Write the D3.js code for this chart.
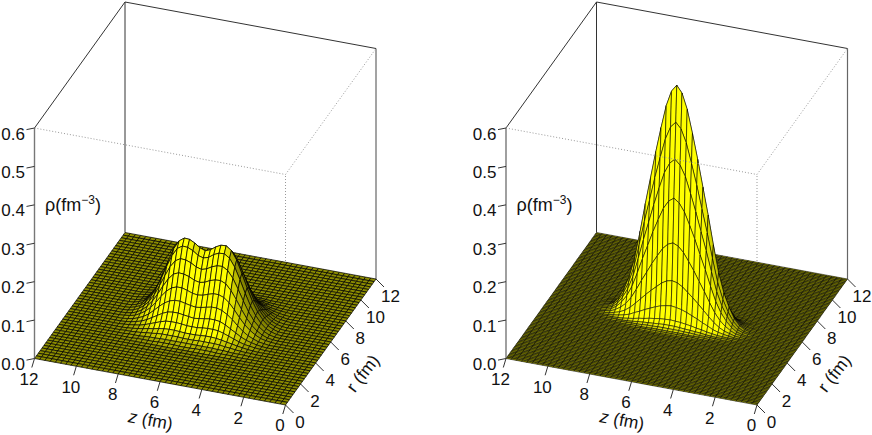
<!DOCTYPE html>
<html>
<head>
<meta charset="utf-8">
<script src="https://cdn.jsdelivr.net/npm/d3@7"></script>
<style>
  html, body { margin: 0; background: #fff; }
  text { font-family: "Liberation Sans", Arial, sans-serif; fill: #111; }
</style>
</head>
<body>
<svg id="chart" width="872" height="435"></svg>
<script>
const zTicks = [0, 2, 4, 6, 8, 10, 12];
const rTicks = [0, 2, 4, 6, 8, 10, 12];
const rhoTicks = [0, 0.1, 0.2, 0.3, 0.4, 0.5, 0.6];

// distance from the centre of the grid (z = 6, r = 6), rows and columns of the tables below
const dzNodes = [0, 0.25, 0.5, 0.75, 1, 1.25, 1.5, 1.75, 2, 2.25, 2.5, 2.75, 3, 3.25, 3.5];
const drLeft = [0, 0.25, 0.5, 0.75, 1, 1.25, 1.5, 1.75, 2, 2.25, 2.5, 2.75];
const drRight = [0, 0.125, 0.25, 0.375, 0.5, 0.625, 0.75, 0.875, 1, 1.125, 1.25, 1.375];

const rhoLeft = [
  [.177, .182, .192, .199, .200, .190, .168, .135, .100, .068, .043, .025, .012, .005, .001],
  [.165, .169, .179, .185, .186, .177, .156, .126, .093, .063, .040, .023, .011, .005, .001],
  [.142, .146, .154, .159, .160, .152, .134, .108, .080, .054, .034, .020, .010, .004, .001],
  [.115, .118, .125, .129, .130, .124, .109, .088, .065, .044, .028, .016, .008, .003, .001],
  [.089, .091, .096, .100, .100, .095, .084, .068, .050, .034, .022, .013, .006, .003, .001],
  [.064, .066, .069, .072, .072, .068, .060, .049, .036, .024, .015, .009, .004, .002, 0],
  [.042, .044, .046, .048, .048, .046, .040, .032, .024, .016, .010, .006, .003, .001, 0],
  [.027, .027, .029, .030, .030, .029, .025, .020, .015, .010, .006, .004, .002, .001, 0],
  [.015, .015, .016, .017, .017, .016, .014, .011, .009, .006, .004, .002, .001, 0, 0],
  [.008, .008, .009, .009, .009, .009, .008, .006, .005, .003, .002, .001, .001, 0, 0],
  [.004, .004, .004, .004, .004, .004, .003, .003, .002, .001, .001, .001, 0, 0, 0],
  [.001, .001, .002, .002, .002, .002, .001, .001, .001, .001, 0, 0, 0, 0, 0]
];

const rhoRight = [
  [.608, .590, .550, .490, .425, .355, .285, .210, .140, .090, .055, .028, .012, .004, .001],
  [.515, .500, .466, .415, .361, .301, .242, .178, .118, .076, .046, .024, .010, .003, .001],
  [.422, .409, .382, .340, .295, .246, .198, .146, .097, .062, .038, .019, .008, .003, .001],
  [.324, .314, .293, .261, .227, .189, .152, .112, .075, .048, .029, .015, .006, .002, 0],
  [.211, .205, .191, .170, .148, .123, .099, .073, .049, .031, .019, .010, .004, .002, 0],
  [.116, .113, .105, .093, .081, .068, .054, .040, .027, .017, .010, .006, .002, .001, 0],
  [.054, .052, .049, .044, .038, .032, .025, .019, .012, .008, .005, .003, .001, 0, 0],
  [.021, .020, .019, .017, .015, .012, .010, .007, .005, .003, .002, .001, .001, 0, 0],
  [.010, .010, .009, .008, .007, .006, .005, .003, .002, .001, .001, .001, 0, 0, 0],
  [.005, .005, .005, .004, .004, .003, .002, .002, .001, .001, 0, 0, 0, 0, 0],
  [.002, .002, .002, .002, .001, .001, .001, .001, 0, 0, 0, 0, 0, 0, 0],
  [.001, .001, .001, .001, .001, .001, 0, 0, 0, 0, 0, 0, 0, 0, 0]
];

const zNodes = d3.range(0, 12.001, 0.25);
const rNodesLeft = d3.range(0, 12.001, 0.25);
const rNodesRight = d3.range(0, 12.001, 0.125);

const svg = d3.select("#chart");

// oblique box: every axis is a pair of screen offsets from the front floor corner
const zX = d3.scaleLinear().domain([0, 12]).range([0, -251]);
const zY = d3.scaleLinear().domain([0, 12]).range([0, -46.5]);
const rX = d3.scaleLinear().domain([0, 12]).range([0, 90.5]);
const rY = d3.scaleLinear().domain([0, 12]).range([0, -126]);
const rhoY = d3.scaleLinear().domain([0, 0.6]).range([0, -230.5]);
const project = (z, r, rho) => [zX(z) + rX(r), zY(z) + rY(r) + rhoY(rho)];

// light comes from the viewer's side, a little to the left
const light = [0.2, -0.95, 0.2];
const shade = d3.scaleLinear().domain([-0.6, 0.2, 0.8]).range([0.3, 0.55, 1]).clamp(true);

function cellColor(c) {
  // c: corners as [z, r, rho], slopes taken in box units
  const dwdz = ((c[1][2] + c[2][2] - c[0][2] - c[3][2]) / 2 / 0.6) / ((c[1][0] - c[0][0]) / 12);
  const dwdr = ((c[2][2] + c[3][2] - c[0][2] - c[1][2]) / 2 / 0.6) / ((c[3][1] - c[0][1]) / 12);
  const len = Math.hypot(dwdz, dwdr, 1);
  const dot = (-dwdz * light[0] - dwdr * light[1] + light[2]) / len;
  const v = Math.round(255 * shade(dot));
  return d3.rgb(v, v, 0).formatHex();
}

function drawPanel(dx, rNodes, drNodes, table, meshWidth) {
  const g = svg.append("g").attr("transform", "translate(" + dx + ",405)");

  const dzIndex = new Map(dzNodes.map((d, i) => [d, i]));
  const drIndex = new Map(drNodes.map((d, i) => [d, i]));
  const rhoAt = (z, r) => {
    const i = dzIndex.get(Math.abs(z - 6));
    const j = drIndex.get(Math.abs(r - 6));
    return i === undefined || j === undefined ? 0 : table[j][i];
  };

  const line = d3.line();
  const box = (a, b) => g.append("path").attr("d", line([project(...a), project(...b)])).attr("fill", "none");

  // back of the box and the hidden front edge, under the surface
  box([12, 12, 0], [12, 12, 0.6]).attr("stroke", "#333").attr("stroke-width", 1);
  box([0, 12, 0], [0, 12, 0.6]).attr("stroke", "#666").attr("stroke-width", 1.2);
  box([12, 0, 0], [12, 0, 0.6]).attr("stroke", "#777").attr("stroke-width", 1.4);
  box([12, 0, 0.6], [12, 12, 0.6]).attr("stroke", "#333").attr("stroke-width", 1);
  box([12, 12, 0.6], [0, 12, 0.6]).attr("stroke", "#333").attr("stroke-width", 1);
  box([0, 0, 0], [0, 0, 0.6]).attr("stroke", "#999").attr("stroke-width", 1).attr("stroke-dasharray", "1 2");

  // surface, back to front
  const cells = [];
  for (let j = rNodes.length - 2; j >= 0; j--) {
    for (let i = zNodes.length - 2; i >= 0; i--) {
      const c = [[zNodes[i], rNodes[j]], [zNodes[i + 1], rNodes[j]], [zNodes[i + 1], rNodes[j + 1]], [zNodes[i], rNodes[j + 1]]]
        .map(p => [p[0], p[1], rhoAt(p[0], p[1])]);
      cells.push(c);
    }
  }
  g.append("g").selectAll("path")
    .data(cells)
    .join("path")
    .attr("d", c => line(c.map(p => project(...p))) + "Z")
    .attr("fill", cellColor)
    .attr("stroke", "#000")
    .attr("stroke-width", meshWidth)
    .attr("stroke-linejoin", "round");

  // dotted edges that show through
  box([12, 0, 0.6], [0, 0, 0.6]).attr("stroke", "#999").attr("stroke-width", 1).attr("stroke-dasharray", "1 2");
  box([0, 0, 0.6], [0, 12, 0.6]).attr("stroke", "#999").attr("stroke-width", 1).attr("stroke-dasharray", "1 2");

  // rho axis
  rhoTicks.forEach(v => {
    const p = project(12, 0, v);
    g.append("path").attr("d", line([p, [p[0] - 8, p[1] + 1.6]])).attr("stroke", "#333").attr("fill", "none");
    g.append("text").attr("x", p[0] - 9.5).attr("y", p[1] + 11.5)
      .attr("text-anchor", "end").attr("font-size", 17).text(v.toFixed(1));
  });

  // z axis
  zTicks.forEach(v => {
    const p = project(v, 0, 0);
    g.append("path").attr("d", line([p, [p[0] - 2.7, p[1] + 9]])).attr("stroke", "#333").attr("fill", "none");
    g.append("text").attr("x", p[0] - 5.5).attr("y", p[1] + 26.3)
      .attr("text-anchor", "middle").attr("font-size", 17).text(v);
  });

  // r axis
  rTicks.forEach(v => {
    const p = project(0, v, 0);
    g.append("path").attr("d", line([p, [p[0] + 8, p[1] + 8]])).attr("stroke", "#333").attr("fill", "none");
    g.append("text").attr("x", p[0] + 14.5).attr("y", p[1] + 22.5)
      .attr("text-anchor", "middle").attr("font-size", 17).text(v);
  });

  // axis titles
  const zTitle = g.append("text").attr("text-anchor", "middle").attr("font-size", 17.5)
    .attr("transform", "translate(-136,21) rotate(10.5)");
  zTitle.append("tspan").attr("font-style", "italic").text("z");
  zTitle.append("tspan").text(" (fm)");

  const rTitle = g.append("text").attr("text-anchor", "middle").attr("font-size", 17.5)
    .attr("transform", "translate(82,-28) rotate(-52)");
  rTitle.append("tspan").text("r (fm)");

  const rhoTitle = g.append("text").attr("x", -240.5).attr("y", -194).attr("font-size", 18);
  rhoTitle.append("tspan").text("ρ(fm");
  rhoTitle.append("tspan").attr("dy", -7).attr("font-size", 12).text("−3");
  rhoTitle.append("tspan").attr("dy", 7).text(")");
}

drawPanel(285.5, rNodesLeft, drLeft, rhoLeft, 0.7);
drawPanel(757, rNodesRight, drRight, rhoRight, 0.55);
</script>
</body>
</html>
